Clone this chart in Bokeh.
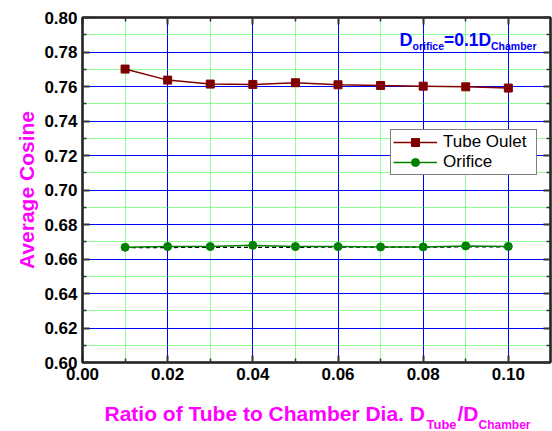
import math
from bokeh.plotting import figure
from bokeh.layouts import row, column
from bokeh.models import (FixedTicker, LinearAxis, Range1d, Label, Legend, LegendItem,
                          PrintfTickFormatter)
from bokeh.embed import file_html
from bokeh.resources import INLINE

# ---- data ----
ratio = [0.01, 0.02, 0.03, 0.04, 0.05, 0.06, 0.07, 0.08, 0.09, 0.10]
tube_outlet = [0.7701, 0.7637, 0.7614, 0.7612, 0.7622, 0.7610, 0.7606, 0.7602, 0.7598, 0.7591]
orifice = [0.6668, 0.6672, 0.6672, 0.6679, 0.6672, 0.6672, 0.6670, 0.6670, 0.6676, 0.6673]
fit_x = [0.01, 0.10]
fit_orifice = [0.6666, 0.6670]
x_ticks = [0.00, 0.02, 0.04, 0.06, 0.08, 0.10]
x_minor = [0.01, 0.03, 0.05, 0.07, 0.09]
y_ticks = [0.60, 0.62, 0.64, 0.66, 0.68, 0.70, 0.72, 0.74, 0.76, 0.78, 0.80]
y_minor = [0.61, 0.63, 0.65, 0.67, 0.69, 0.71, 0.73, 0.75, 0.77, 0.79]

FONT = "Liberation Sans"
MAG = "#FF00FF"
BLUE = "#0000FF"

YW = 40      # width of y-title strip
XH = 41      # height of x-title strip
W, H = 552, 431

p = figure(width=W - YW, height=H - XH, output_backend="svg", toolbar_location=None,
           x_range=Range1d(0.0, 0.1099), y_range=Range1d(0.60, 0.80),
           min_border_left=82 - YW, min_border_right=2, min_border_top=17,
           min_border_bottom=H - XH - 362,
           x_axis_location=None, y_axis_location=None)
p.background_fill_color = "white"
p.border_fill_color = "white"
p.outline_line_color = "black"
p.outline_line_width = 2

xt = FixedTicker(ticks=x_ticks, minor_ticks=x_minor)
yt = FixedTicker(ticks=y_ticks, minor_ticks=y_minor)

def style_axis(ax, show_labels, standoff):
    ax.axis_line_color = "#222222"
    ax.axis_line_width = 2
    ax.major_tick_in = 7
    ax.major_tick_out = 0
    ax.minor_tick_in = 4
    ax.minor_tick_out = 0
    ax.major_tick_line_color = "#333333"
    ax.major_tick_line_width = 2
    ax.minor_tick_line_color = "#333333"
    ax.minor_tick_line_width = 1.5
    ax.major_label_text_font = FONT
    ax.major_label_text_font_style = "bold"
    ax.major_label_text_font_size = "17px"
    ax.major_label_text_color = "black"
    ax.major_label_standoff = standoff
    ax.formatter = PrintfTickFormatter(format="%.2f")
    if not show_labels:
        ax.major_label_text_font_size = "0px"
        ax.major_label_text_alpha = 0

bx = LinearAxis(ticker=xt); style_axis(bx, True, 5)
tx = LinearAxis(ticker=xt); style_axis(tx, False, 0)
ly = LinearAxis(ticker=yt); style_axis(ly, True, 5)
ry = LinearAxis(ticker=yt); style_axis(ry, False, 0)
p.add_layout(bx, "below")
p.add_layout(tx, "above")
p.add_layout(ly, "left")
p.add_layout(ry, "right")

# grids
p.xgrid.ticker = xt
p.ygrid.ticker = yt
for g in (p.xgrid, p.ygrid):
    g.grid_line_color = BLUE
    g.grid_line_width = 1
    g.minor_grid_line_color = "#22FF22"
    g.minor_grid_line_dash = "1 1"
    g.minor_grid_line_width = 1

# data
r_fit = p.line(fit_x, fit_orifice, line_color="black", line_width=1.2, line_dash="4 3")
l1 = p.line(ratio, tube_outlet, line_color="#800000", line_width=1.5)
m1 = p.scatter(ratio, tube_outlet, marker="square", size=8, fill_color="#800000",
               line_color="#800000")
l2 = p.line(ratio, orifice, line_color="#008000", line_width=1.5)
m2 = p.scatter(ratio, orifice, marker="circle", size=8, fill_color="#008000",
               line_color="#008000")

legend = Legend(items=[LegendItem(label="Tube Oulet", renderers=[l1, m1]),
                       LegendItem(label="Orifice", renderers=[l2, m2])],
                location=(308, 187))
legend.label_text_font = FONT
legend.label_text_font_size = "17px"
legend.label_text_color = "black"
legend.glyph_width = 44
legend.glyph_height = 20
legend.label_height = 20
legend.label_width = 91
legend.label_standoff = 6
legend.padding = 2
legend.spacing = 0
legend.margin = 0
legend.border_line_color = "black"
legend.border_line_width = 1
legend.background_fill_color = "white"
legend.background_fill_alpha = 1
p.add_layout(legend)

def lab(fig, text, x, y, size, color, angle=0, align="left"):
    fig.add_layout(Label(x=x, y=y, x_units="screen", y_units="screen", text=text,
                         text_font=FONT, text_font_style="bold",
                         text_font_size=size, text_color=color, angle=angle,
                         text_align=align, text_baseline="alphabetic"))

# annotation inside the plot (frame origin on canvas: left=82, bottom=362)
L0, B0 = 82, 362
lab(p, "D", 399 - L0, B0 - 39, "18px", BLUE)
lab(p, "orifice", 412 - L0, B0 - 45, "10.5px", BLUE)
lab(p, "=0.1D", 443.5 - L0, B0 - 39, "17.5px", BLUE)
lab(p, "Chamber", 490.5 - L0, B0 - 45, "10.5px", BLUE)

def strip(w, h):
    f = figure(width=w, height=h, output_backend="svg", toolbar_location=None,
               x_range=Range1d(0, 1), y_range=Range1d(0, 1),
               min_border=0, min_border_left=0, min_border_right=0,
               min_border_top=0, min_border_bottom=0,
               x_axis_location=None, y_axis_location=None)
    f.grid.visible = False
    f.outline_line_color = None
    f.background_fill_color = "white"
    f.border_fill_color = "white"
    return f

# y title strip (canvas x 0..YW)
yfig = strip(YW, H)
lab(yfig, "Average Cosine", 26, H - 189.5, "21px", MAG, angle=math.pi / 2, align="center")

# x title strip (canvas y 390..431, x YW..552)
xfig = strip(W - YW, XH)
lab(xfig, "Ratio of Tube to Chamber Dia. D", 104 - YW, H - 413, "21px", MAG)
lab(xfig, "Tube", 426 - YW, H - 424, "13px", MAG)
lab(xfig, "/D", 457 - YW, H - 413, "21px", MAG)
lab(xfig, "Chamber", 478 - YW, H - 424, "12px", MAG)

for f in (p, xfig, yfig):
    if "frame_align" in f.properties():
        f.frame_align = False

layout = row(yfig, column(p, xfig, spacing=0), spacing=0)

open("out.html", "w").write(file_html(layout, INLINE))
